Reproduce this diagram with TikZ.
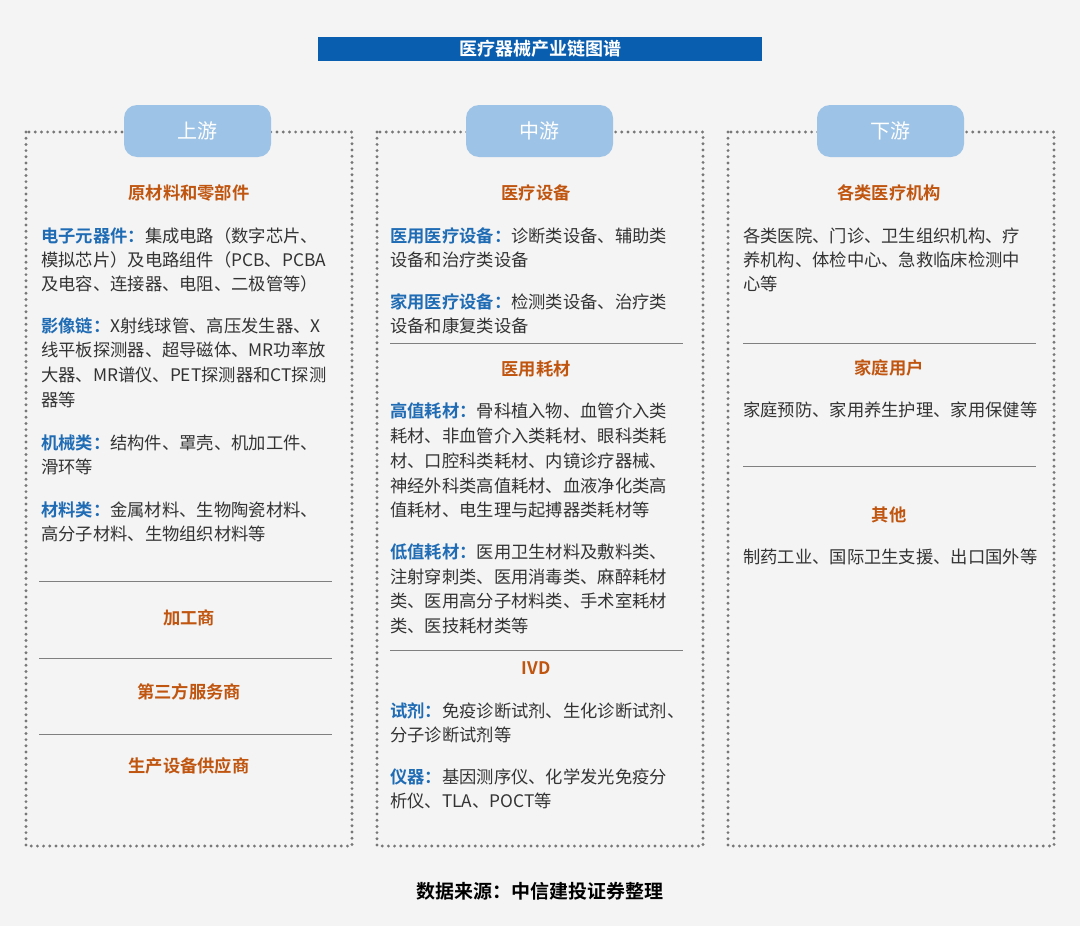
\documentclass[tikz,border=0pt]{standalone}
\usepackage{fontspec}
\setmainfont{Noto Sans CJK SC}[BoldFont={Noto Sans CJK SC Bold}]
\definecolor{bg}{HTML}{F4F4F4}
\definecolor{titleblue}{HTML}{0A5EB0}
\definecolor{tabblue}{HTML}{9DC3E6}
\definecolor{lblue}{HTML}{1F6CB5}
\definecolor{hor}{HTML}{C0550F}
\definecolor{txt}{HTML}{333333}
\definecolor{dotg}{HTML}{777777}
\definecolor{sepg}{HTML}{7F7F7F}
\begin{document}
\begin{tikzpicture}[x=1pt,y=-1pt,
  txtline/.style={anchor=west,inner sep=0pt,text=txt,font=\fontsize{17.3}{20}\selectfont},
  head/.style={inner sep=0pt,text=hor,font=\fontsize{17.3}{20}\selectfont\bfseries},
  colbox/.style={draw=dotg,line width=3.2pt,dash pattern=on 0pt off 6.2pt,line cap=round},
  tab/.style={fill=tabblue,rounded corners=13pt,text=white,font=\fontsize{20}{22}\selectfont,minimum width=147pt,minimum height=52pt,inner sep=0pt},
  sep/.style={draw=sepg,line width=0.8pt}]
\path[fill=bg,use as bounding box] (0,0) rectangle (1080,926);
\node[fill=titleblue,minimum width=444pt,minimum height=24pt,inner sep=0pt,text=white,font=\fontsize{18}{20}\selectfont\bfseries] (title) at (540,49) {医疗器械产业链图谱};
% boxes
\draw[colbox] (26,132) rectangle (352,846);
\draw[colbox] (377,132) rectangle (703,846);
\draw[colbox] (728,132) rectangle (1054,846);
\node[tab] (tab1) at (197.5,131) {上游};
\node[tab] (tab2) at (539.5,131) {中游};
\node[tab] (tab3) at (890.5,131) {下游};
\newcommand{\lb}[1]{\textcolor{lblue}{\bfseries #1}}
% column 1
\node[head] (h11) at (189,193) {原材料和零部件};
\node[txtline] (a1) at (41,236) {\lb{电子元器件：}集成电路（数字芯片、};
\node[txtline] (a2) at (41,260) {模拟芯片）及电路组件（PCB、PCBA};
\node[txtline] (a3) at (41,284) {及电容、连接器、电阻、二极管等）};
\node[txtline] (a4) at (41,326) {\lb{影像链：}X射线球管、高压发生器、X};
\node[txtline] (a5) at (41,350) {线平板探测器、超导磁体、MR功率放};
\node[txtline] (a6) at (41,375) {大器、MR谱仪、PET探测器和CT探测};
\node[txtline] (a7) at (41,400) {器等};
\node[txtline] (a8) at (41,443) {\lb{机械类：}结构件、罩壳、机加工件、};
\node[txtline] (a9) at (41,467) {滑环等};
\node[txtline] (a10) at (41,510) {\lb{材料类：}金属材料、生物陶瓷材料、};
\node[txtline] (a11) at (41,534) {高分子材料、生物组织材料等};
\coordinate (s1a) at (39,581); \coordinate (s1b) at (332,581);
\draw[sep] (s1a) -- (s1b);
\node[head] (h12) at (189,618) {加工商};
\coordinate (s2a) at (39,658); \coordinate (s2b) at (332,658);
\draw[sep] (s2a) -- (s2b);
\node[head] (h13) at (189,692) {第三方服务商};
\coordinate (s3a) at (39,734); \coordinate (s3b) at (332,734);
\draw[sep] (s3a) -- (s3b);
\node[head] (h14) at (189,766) {生产设备供应商};
% column 2
\node[head] (h21) at (536,193) {医疗设备};
\node[txtline] (b1) at (390,236) {\lb{医用医疗设备：}诊断类设备、辅助类};
\node[txtline] (b2) at (390,260) {设备和治疗类设备};
\node[txtline] (b3) at (390,302) {\lb{家用医疗设备：}检测类设备、治疗类};
\node[txtline] (b4) at (390,326) {设备和康复类设备};
\coordinate (s4a) at (390,343); \coordinate (s4b) at (683,343);
\draw[sep] (s4a) -- (s4b);
\node[head] (h22) at (536,369) {医用耗材};
\node[txtline] (b5) at (390,411) {\lb{高值耗材：}骨科植入物、血管介入类};
\node[txtline] (b6) at (390,436) {耗材、非血管介入类耗材、眼科类耗};
\node[txtline] (b7) at (390,461) {材、口腔科类耗材、内镜诊疗器械、};
\node[txtline] (b8) at (390,486) {神经外科类高值耗材、血液净化类高};
\node[txtline] (b9) at (390,510) {值耗材、电生理与起搏器类耗材等};
\node[txtline] (b10) at (390,552) {\lb{低值耗材：}医用卫生材料及敷料类、};
\node[txtline] (b11) at (390,577) {注射穿刺类、医用消毒类、麻醉耗材};
\node[txtline] (b12) at (390,601) {类、医用高分子材料类、手术室耗材};
\node[txtline] (b13) at (390,626) {类、医技耗材类等};
\coordinate (s5a) at (390,650); \coordinate (s5b) at (683,650);
\draw[sep] (s5a) -- (s5b);
\node[head] (h23) at (536,668) {IVD};
\node[txtline] (b14) at (390,711) {\lb{试剂：}免疫诊断试剂、生化诊断试剂、};
\node[txtline] (b15) at (390,735) {分子诊断试剂等};
\node[txtline] (b16) at (390,777) {\lb{仪器：}基因测序仪、化学发光免疫分};
\node[txtline] (b17) at (390,801) {析仪、TLA、POCT等};
% column 3
\node[head] (h31) at (889,193) {各类医疗机构};
\node[txtline] (c1) at (743,236) {各类医院、门诊、卫生组织机构、疗};
\node[txtline] (c2) at (743,260) {养机构、体检中心、急救临床检测中};
\node[txtline] (c3) at (743,284) {心等};
\coordinate (s6a) at (743,343); \coordinate (s6b) at (1036,343);
\draw[sep] (s6a) -- (s6b);
\node[head] (h32) at (889,368) {家庭用户};
\node[txtline] (c4) at (743,410) {家庭预防、家用养生护理、家用保健等};
\coordinate (s7a) at (743,466); \coordinate (s7b) at (1036,466);
\draw[sep] (s7a) -- (s7b);
\node[head] (h33) at (889,515) {其他};
\node[txtline] (c5) at (743,557) {制药工业、国际卫生支援、出口国外等};
% footer
\node[inner sep=0pt,font=\fontsize{19}{20}\selectfont\bfseries,text=black] (src) at (540,891) {数据来源：中信建投证券整理};
\end{tikzpicture}
\end{document}
